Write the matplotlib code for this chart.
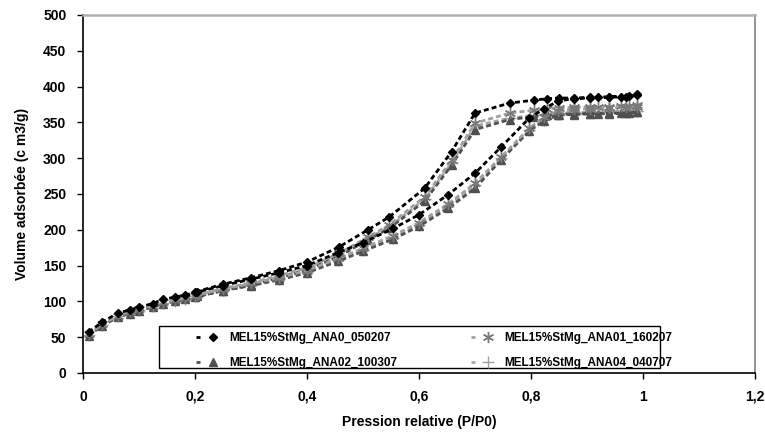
import matplotlib
matplotlib.use("Agg")
import matplotlib.pyplot as plt
from matplotlib.ticker import FuncFormatter, MultipleLocator
from matplotlib.legend_handler import HandlerLine2DCompound
from matplotlib.patches import Rectangle

plt.rcParams['font.family'] = ['Liberation Sans', 'DejaVu Sans']
plt.rcParams['font.weight'] = 'bold'

# pression relative - branche adsorption puis desorption
p_ads = [0.01, 0.034, 0.063, 0.084, 0.10, 0.125, 0.143, 0.165, 0.183, 0.204, 0.25, 0.30, 0.35, 0.40,
         0.455, 0.50, 0.554, 0.60, 0.652, 0.70, 0.747, 0.797, 0.823, 0.849, 0.876, 0.905, 0.94, 0.97, 0.99]
p_des = [0.99, 0.975, 0.96, 0.94, 0.92, 0.905, 0.876, 0.85, 0.828, 0.805, 0.762, 0.70, 0.658, 0.61,
         0.547, 0.509, 0.457, 0.40, 0.35, 0.30, 0.25, 0.20]

names = ['MEL15%StMg_ANA0_050207', 'MEL15%StMg_ANA01_160207',
         'MEL15%StMg_ANA02_100307', 'MEL15%StMg_ANA04_040707']

v_ads_0 = [57, 71, 84, 88, 92, 97, 103, 106, 109, 113, 122, 131, 140, 150, 168, 182, 202, 221, 249, 279, 316, 356, 369, 380, 383, 384, 385, 386, 388]
v_des_0 = [390, 387, 386, 386, 385, 385, 384, 384, 383, 381, 377, 363, 309, 258, 218, 200, 176, 155, 143, 133, 124, 113]
v_ads_1 = [54, 68, 80, 85, 89, 94, 99, 102, 105, 109, 117, 125, 133, 143, 160, 174, 192, 210, 236, 265, 302, 342, 357, 366, 368, 369, 370, 371, 372]
v_des_1 = [374, 373, 373, 372, 372, 372, 371, 370, 369, 367, 363, 349, 297, 246, 207, 190, 167, 147, 136, 126, 118, 108]
v_ads_2 = [52, 66, 78, 83, 87, 92, 97, 100, 103, 107, 115, 122, 130, 140, 156, 170, 187, 205, 230, 258, 298, 338, 352, 360, 361, 362, 362, 363, 364]
v_des_2 = [364, 363, 363, 363, 362, 362, 362, 361, 360, 358, 354, 340, 290, 240, 202, 186, 163, 144, 133, 123, 115, 106]
v_ads_3 = [53, 67, 79, 84, 88, 93, 98, 101, 104, 108, 116, 123, 131, 141, 158, 172, 189, 207, 233, 262, 300, 340, 354, 362, 363, 364, 365, 365, 366]
v_des_3 = [366, 365, 365, 365, 364, 364, 364, 363, 362, 360, 356, 345, 293, 243, 204, 188, 165, 145, 134, 124, 116, 107]


# legende facon Excel : un petit tiret puis le marqueur
class DashMarker(HandlerLine2DCompound):
    def get_xdata(self, legend, xdescent, ydescent, width, height, fontsize):
        return [-xdescent, -xdescent + width * 0.2], [-xdescent + width * 0.75]


fig = plt.figure(figsize=(7.65, 4.33), dpi=100)
ax = fig.add_axes([0.1085, 0.1386, 0.8785, 0.8268])

x = p_ads + p_des
series = [(v_ads_0 + v_des_0, 'black', 'black', 'D', 4.5),
          (v_ads_1 + v_des_1, '#a0a0a0', '#7a7a7a', (6, 2, 0), 8),
          (v_ads_2 + v_des_2, '#505050', '#505050', '^', 5.5),
          (v_ads_3 + v_des_3, '#a8a8a8', '#a0a0a0', '+', 8)]
lines = []
for i, (y, lc, mc, m, ms) in enumerate(series):
    ln, = ax.plot(x, y, color=lc, linestyle=(0, (1.8, 1.1)), linewidth=2.0, marker=m, markersize=ms,
                  markeredgecolor=mc, markerfacecolor=mc, markeredgewidth=1.0, label=names[i], zorder=5 - i)
    lines.append(ln)

ax.set_xlim(0, 1.2)
ax.set_ylim(0, 500)
ax.xaxis.set_major_locator(MultipleLocator(0.2))
ax.yaxis.set_major_locator(MultipleLocator(50))
ax.xaxis.set_major_formatter(FuncFormatter(lambda v, p: ('%g' % round(v, 1)).replace('.', ',')))
ax.tick_params(direction='out', length=4, width=1, labelsize=10, pad=8)
for lab in ax.get_xticklabels() + ax.get_yticklabels():
    lab.set_fontweight('bold')

ax.spines['left'].set_color('black')
ax.spines['bottom'].set_color('black')
ax.spines['top'].set_color('#b0b0b0')
ax.spines['right'].set_color('#808080')
for s in ax.spines.values():
    s.set_linewidth(1.2)
ax.spines['top'].set_linewidth(1.8)

ax.set_xlabel('Pression relative (P/P0)', fontsize=10, fontweight='bold', labelpad=8)
ax.set_ylabel('Volume adsorbée (c m3/g)', fontsize=10, fontweight='bold', labelpad=10)

# cadre de la legende
ax.add_patch(Rectangle((0.113, 0.014), 0.746, 0.117, transform=ax.transAxes, facecolor='white',
                       edgecolor='black', linewidth=1.0, zorder=9))

hm = {l: DashMarker() for l in lines}
kw = dict(loc='upper left', frameon=False, borderpad=0, borderaxespad=0, handlelength=1.9,
          handletextpad=0.95, labelspacing=1.15, prop={'size': 8.5, 'weight': 'bold'}, handler_map=hm)
leg1 = ax.legend([lines[0], lines[2]], [names[0], names[2]], bbox_to_anchor=(0.168, 0.115), **kw)
leg1.set_zorder(10)
ax.add_artist(leg1)
leg2 = ax.legend([lines[1], lines[3]], [names[1], names[3]], bbox_to_anchor=(0.577, 0.115), **kw)
leg2.set_zorder(10)

fig.savefig('out.png', dpi=100)
